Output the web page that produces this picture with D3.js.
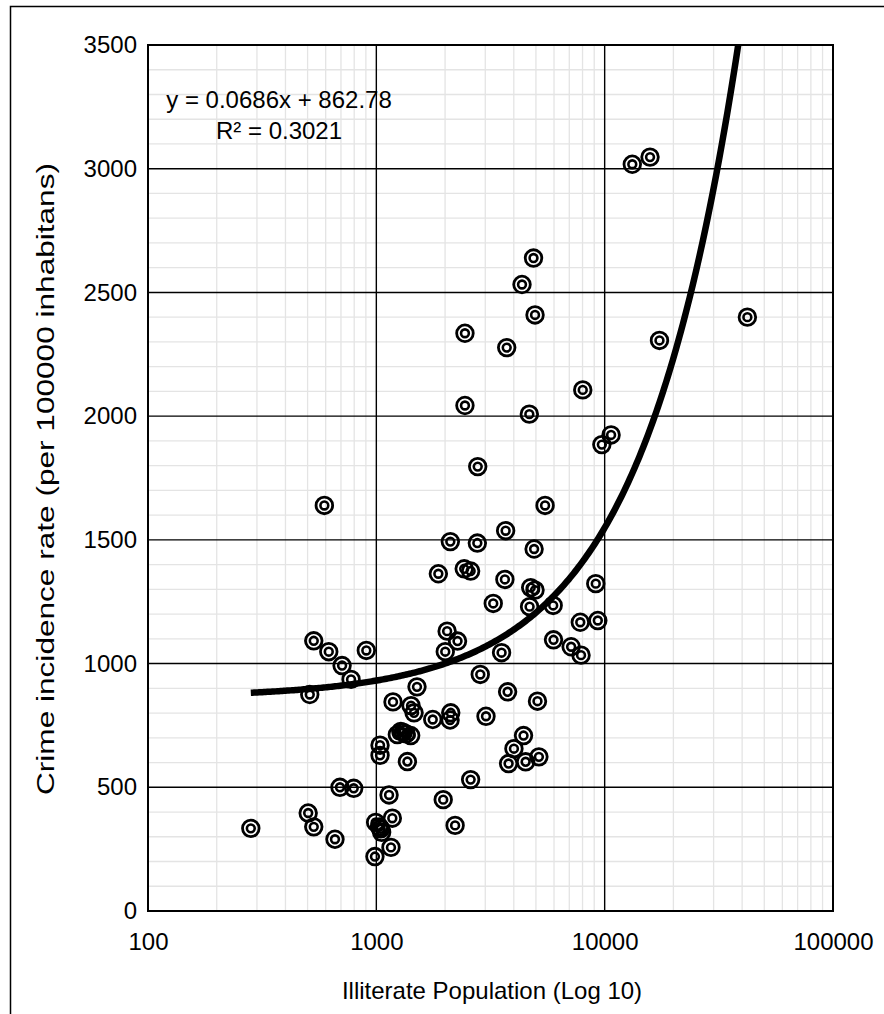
<!DOCTYPE html>
<html>
<head>
<meta charset="utf-8">
<script src="https://cdn.jsdelivr.net/npm/d3@7"></script>
<style>
  body { margin: 0; background: #fff; }
  text { font-family: "Liberation Sans", Arial, sans-serif; fill: #000; }
</style>
</head>
<body>
<script>
// illiterate population (x, log axis) and crime rate per 100000 (y)
const illiterate = [282, 503, 532, 511, 532, 592, 619, 659, 693, 708, 775, 796, 904,
    986, 993, 1031, 1055, 1045, 1038, 1038, 1137, 1159, 1175, 1183, 1236, 1280, 1313,
    1350, 1414, 1368, 1419, 1463, 1507, 1766, 1869, 1963, 2004, 2042, 2109, 2118, 2104,
    2213, 2268, 2426, 2444, 2444, 2588, 2588, 2769, 2780, 2852, 3022, 3251, 3536, 3656,
    3684, 3724, 3758, 3795, 4005, 4345, 4412, 4507, 4678, 4690, 4743, 4880, 4909, 4955,
    4955, 5079, 5152, 5483, 5950, 5970, 7130, 7820, 7880, 8017, 9141, 9333, 9720, 10669,
    13213, 15800, 17380, 42170]
const crimeRate = [334, 396, 340, 875, 1092, 1639, 1048, 290, 500, 992, 936, 496, 1053,
    220, 358, 340, 318, 332, 670, 629, 469, 257, 375, 845, 713, 726, 722,
    716, 709, 604, 830, 801, 906, 774, 1363, 450, 1048, 1131, 1493, 801, 772,
    346, 1091, 1383, 2335, 2043, 1374, 531, 1487, 1796, 956, 787, 1243, 1044, 1340,
    1537, 2277, 886, 596, 656, 2532, 709, 603, 2008, 1230, 1307, 2639, 1463, 2409,
    1297, 848, 623, 1639, 1235, 1096, 1068, 1167, 1034, 2106, 1323, 1174, 1885, 1924,
    3018, 3047, 2306, 2400]

const xTicks = [100, 1000, 10000, 100000]
const yTicks = [0, 500, 1000, 1500, 2000, 2500, 3000, 3500]

// linear trendline from the sheet
const slope = 0.0686
const intercept = 862.78

const width = 884
const height = 1014
const plotLeft = 148, plotRight = 833, plotTop = 45, plotBottom = 911

const svg = d3.select('body')
    .append('svg')
    .attr('width', width)
    .attr('height', height)

// outer frame (runs off right and bottom)
svg.append('rect')
    .attr('x', 10.5).attr('y', 6.5)
    .attr('width', 1000).attr('height', 1100)
    .attr('fill', 'none').attr('stroke', '#000').attr('stroke-width', 1.5)

const xScale = d3.scaleLog().domain([100, 100000]).range([plotLeft, plotRight])
const yScale = d3.scaleLinear().domain([0, 3500]).range([plotBottom, plotTop])

// minor grid
let minorX = []
for (let k = 100; k < 100000; k *= 10) {
    for (let m = 2; m <= 9; m++) minorX.push(k * m)
}
svg.append('g').selectAll('line')
    .data(minorX)
    .enter()
    .append('line')
    .attr('x1', d => xScale(d)).attr('x2', d => xScale(d))
    .attr('y1', plotTop).attr('y2', plotBottom)
    .attr('stroke', '#e4e4e4').attr('stroke-width', 1.3)

svg.append('g').selectAll('line')
    .data(d3.range(0, 3501, 100).filter(d => d % 500 != 0))
    .enter()
    .append('line')
    .attr('x1', plotLeft).attr('x2', plotRight)
    .attr('y1', d => yScale(d)).attr('y2', d => yScale(d))
    .attr('stroke', '#e4e4e4').attr('stroke-width', 1.3)

// major grid
svg.append('g').selectAll('line')
    .data(yTicks)
    .enter()
    .append('line')
    .attr('x1', plotLeft).attr('x2', plotRight)
    .attr('y1', d => yScale(d)).attr('y2', d => yScale(d))
    .attr('stroke', '#000').attr('stroke-width', 1.4)

svg.append('g').selectAll('line')
    .data(xTicks)
    .enter()
    .append('line')
    .attr('x1', d => xScale(d)).attr('x2', d => xScale(d))
    .attr('y1', plotTop).attr('y2', plotBottom)
    .attr('stroke', '#000').attr('stroke-width', 1.4)

svg.append('rect')
    .attr('x', plotLeft).attr('y', plotTop)
    .attr('width', plotRight - plotLeft).attr('height', plotBottom - plotTop)
    .attr('fill', 'none').attr('stroke', '#000').attr('stroke-width', 2)

// axes labels via d3 axes, domain/ticks hidden
const xAxis = svg.append('g')
    .attr('transform', 'translate(0,' + plotBottom + ')')
    .call(d3.axisBottom(xScale).tickValues(xTicks).tickFormat(d3.format('d')).tickSize(0).tickPadding(22))
const yAxis = svg.append('g')
    .attr('transform', 'translate(' + plotLeft + ',0)')
    .call(d3.axisLeft(yScale).tickValues(yTicks).tickFormat(d3.format('d')).tickSize(0).tickPadding(11))
xAxis.select('.domain').remove()
yAxis.select('.domain').remove()
svg.selectAll('.tick text').attr('font-size', 24).attr('font-family', '"Liberation Sans", Arial, sans-serif')

// points: double ring markers
const pts = svg.append('g')
    .selectAll('g')
    .data(illiterate.map((d, i) => [d, crimeRate[i]]))
    .enter()
    .append('g')
    .attr('transform', d => 'translate(' + xScale(d[0]) + ',' + yScale(d[1]) + ')')
pts.append('circle').attr('r', 8.3).attr('fill', 'none').attr('stroke', '#000').attr('stroke-width', 2.8)
pts.append('circle').attr('r', 3.9).attr('fill', 'none').attr('stroke', '#000').attr('stroke-width', 2.6)

// trendline
svg.append('clipPath').attr('id', 'plotclip')
    .append('rect').attr('x', plotLeft).attr('y', plotTop).attr('width', plotRight - plotLeft).attr('height', plotBottom - plotTop)
const xMin = d3.min(illiterate), xMax = d3.max(illiterate)
const trend = d3.range(0, 301).map(i => {
    let x = Math.pow(10, Math.log10(xMin) + (Math.log10(xMax) - Math.log10(xMin)) * i / 300)
    return [x, slope * x + intercept]
})
svg.append('path')
    .datum(trend)
    .attr('clip-path', 'url(#plotclip)')
    .attr('fill', 'none').attr('stroke', '#000').attr('stroke-width', 6.5)
    .attr('d', d3.line().x(d => xScale(d[0])).y(d => yScale(d[1])))

// equation
svg.append('text')
    .attr('x', 279).attr('y', 108)
    .attr('text-anchor', 'middle').attr('font-size', 24)
    .text('y = ' + slope + 'x + ' + intercept)
svg.append('text')
    .attr('x', 279).attr('y', 139)
    .attr('text-anchor', 'middle').attr('font-size', 24)
    .text('R\u00b2 = 0.3021')

// axis titles
svg.append('text')
    .attr('x', 492).attr('y', 999)
    .attr('text-anchor', 'middle').attr('font-size', 24)
    .text('Illiterate Population (Log 10)')
svg.append('text')
    .attr('transform', 'translate(54,479) rotate(-90)')
    .attr('text-anchor', 'middle').attr('font-size', 23)
    .attr('textLength', 632).attr('lengthAdjust', 'spacingAndGlyphs')
    .text('Crime incidence rate (per 100000 inhabitans)')
</script>
</body>
</html>
